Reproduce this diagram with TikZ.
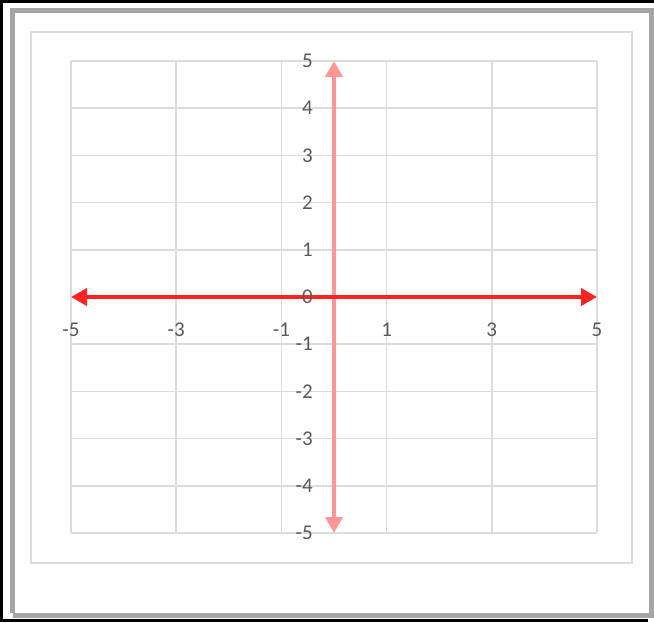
\documentclass[tikz,border=0pt]{standalone}
\usepackage{fontspec}
\setmainfont{Carlito}
\usetikzlibrary{arrows.meta}
\definecolor{gridgray}{RGB}{220,220,220}
\definecolor{labelgray}{RGB}{89,89,89}
\definecolor{axisred}{RGB}{255,35,35}
\definecolor{axispink}{RGB}{255,150,150}
\definecolor{bevelgray}{RGB}{165,165,165}

\begin{document}
\begin{tikzpicture}[x=1pt, y=-1pt,
  tick/.style={font=\fontsize{21}{24}\selectfont, text=labelgray, inner sep=0pt},
  axisline/.style={line width=4pt, {Triangle[length=16pt,width=17pt]}-{Triangle[length=16pt,width=17pt]}}]
          \useasboundingbox (0,0) rectangle (654,623);
          \fill[white] (0,0) rectangle (654,623);

          % Frame
          \draw[black, line width=2.5pt] (654,1.5) -- (1.5,1.5) -- (1.5,620.5) -- (648,620.5);
          \draw[bevelgray, line width=5pt] (12.5,613) -- (12.5,10.5) -- (651,10.5) -- (651,615.5) -- (12.5,615.5);

          % Chart area
          \draw[gridgray, line width=2pt] (31,32) rectangle (632,563);

          % Grid
          \foreach \i in {0,...,5}
            \draw[gridgray, line width=1.5pt] (71+105.2*\i,61) -- (71+105.2*\i,533);
          \foreach \i in {0,...,10}
            \draw[gridgray, line width=1.5pt] (71,61+47.2*\i) -- (597,61+47.2*\i);

          % Axes
          \coordinate (xmin) at (71,297);
          \coordinate (xmax) at (597,297);
          \coordinate (ymax) at (334,61);
          \coordinate (ymin) at (334,533);
          \draw[axisline, axispink] (ymax) -- (ymin);
          \draw[axisline, axisred] (xmin) -- (xmax);

          % Labels
          \foreach \v [count=\i from 0] in {5,4,...,-5}
            \node[tick, anchor=east] (ylab\i) at (313,61+47.2*\i) {\v};
          \foreach \v [count=\i from 0] in {-5,-3,...,5}
            \node[tick] (xlab\i) at (71+105.2*\i,330) {\v};
        \end{tikzpicture}
\end{document}
